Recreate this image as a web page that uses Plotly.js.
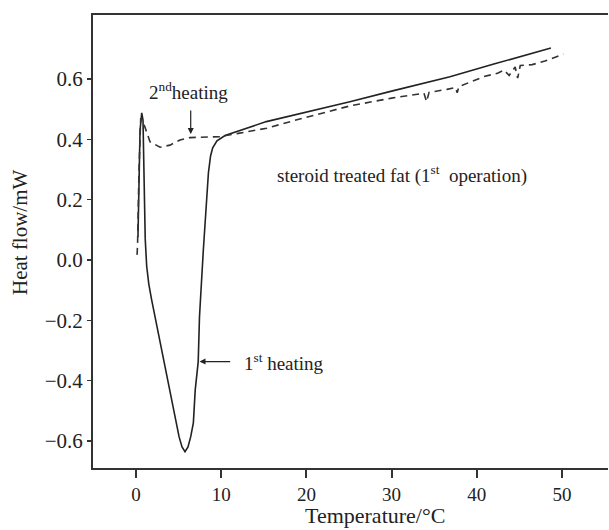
<!DOCTYPE html>
<html>
<head>
<meta charset="utf-8">
<script src="https://cdn.plot.ly/plotly-3.0.1.min.js"></script>
<style>html,body{margin:0;padding:0;background:#fff;}#chart{width:609px;height:530px;}</style>
</head>
<body>
<div id="chart"></div>
<script>
// 1st heating (solid)
var firstTemp = [0.23, 0.35, 0.47, 0.67, 0.82, 0.9, 0.98, 1.08, 1.25, 1.5, 1.84, 3.02, 4.19, 4.78, 5.05, 5.4, 5.75, 6.1, 6.42, 6.73, 6.95, 7.3, 7.45, 7.9, 8.3, 8.5, 8.75, 9.0, 9.5, 10.0, 10.45, 15.3, 20, 25.1, 30, 36.85, 42, 48.7];
var firstFlow = [0.076, 0.265, 0.43, 0.488, 0.464, 0.34, 0.2, 0.07, -0.02, -0.08, -0.133, -0.3, -0.464, -0.54, -0.586, -0.62, -0.636, -0.62, -0.586, -0.54, -0.431, -0.337, -0.188, 0.033, 0.199, 0.29, 0.345, 0.372, 0.395, 0.406, 0.413, 0.459, 0.49, 0.525, 0.56, 0.608, 0.65, 0.703];
// 2nd heating (dashed)
var secondTemp = [0.12, 0.18, 0.35, 0.55, 0.82, 1.64, 2.82, 3.99, 5.16, 6.34, 7.51, 8.69, 9.86, 12, 15.34, 19, 23.1, 25.1, 30, 33.8, 34.1, 34.4, 36.5, 37.5, 37.7, 37.9, 40.8, 42.5, 43.2, 43.8, 44.5, 44.8, 45.1, 46.5, 48, 50.15];
var secondFlow = [0.017, 0.05, 0.3, 0.47, 0.459, 0.392, 0.374, 0.381, 0.398, 0.406, 0.407, 0.408, 0.409, 0.42, 0.437, 0.466, 0.497, 0.511, 0.537, 0.553, 0.525, 0.556, 0.566, 0.572, 0.555, 0.575, 0.608, 0.62, 0.63, 0.612, 0.64, 0.603, 0.645, 0.648, 0.66, 0.683];
var xTicks = [0, 10, 20, 30, 40, 50];
var yTicks = [-0.6, -0.4, -0.2, 0.0, 0.2, 0.4, 0.6];
var yTickText = ['\u22120.6', '\u22120.4', '\u22120.2', '0.0', '0.2', '0.4', '0.6'];
var xTitle = 'Temperature/\u00b0C';
var yTitle = 'Heat flow/mW';

var serif = 'Liberation Serif, Times New Roman, serif';
var traces = [
  {x: firstTemp, y: firstFlow, type: 'scatter', mode: 'lines', line: {color: '#222', width: 1.6}, hoverinfo: 'skip'},
  {x: secondTemp, y: secondFlow, type: 'scatter', mode: 'lines', line: {color: '#333', width: 1.6, dash: '7px,5px'}, hoverinfo: 'skip'}
];
var layout = {
  width: 609, height: 530,
  margin: {l: 93, r: 1, t: 15, b: 62},
  paper_bgcolor: '#fff', plot_bgcolor: '#fff',
  showlegend: false,
  font: {family: serif, color: '#222'},
  xaxis: {
    range: [-5.05, 55.4], tickvals: xTicks, ticktext: xTicks.map(String),
    showgrid: false, zeroline: false, showline: true, mirror: true,
    linecolor: '#333', linewidth: 2, ticks: 'outside', ticklen: 8, tickwidth: 2, tickcolor: '#333',
    tickfont: {family: serif, size: 19, color: '#222'}
  },
  yaxis: {
    range: [-0.69, 0.8126], tickvals: yTicks, ticktext: yTickText,
    showgrid: false, zeroline: false, showline: true,
    linecolor: '#333', linewidth: 2, ticks: 'outside', ticklen: 4, tickwidth: 1.5, tickcolor: '#333',
    tickfont: {family: serif, size: 21, color: '#222'}
  },
  annotations: [
    {x: 0.5476, y: -0.104, xref: 'paper', yref: 'paper', xanchor: 'center', yanchor: 'middle', showarrow: false,
     text: xTitle, font: {family: serif, size: 22, color: '#222'}},
    {x: -0.1417, y: 0.521, xref: 'paper', yref: 'paper', xanchor: 'center', yanchor: 'middle', showarrow: false,
     textangle: -90, text: yTitle, font: {family: serif, size: 21, color: '#222'}},
    {x: 1.29, y: 0.514, xref: 'x', yref: 'y', xanchor: 'left', yanchor: 'bottom', showarrow: false,
     text: '2<sup>nd</sup>heating', font: {family: serif, size: 19, color: '#222'}},
    {x: 6.42, y: 0.418, ax: 6.42, ay: 0.501, xref: 'x', yref: 'y', axref: 'x', ayref: 'y', text: '',
     showarrow: true, arrowhead: 2, arrowsize: 1, arrowwidth: 1.2, arrowcolor: '#222'},
    {x: 12.44, y: -0.385, xref: 'x', yref: 'y', xanchor: 'left', yanchor: 'bottom', showarrow: false,
     text: '1<sup>st</sup> heating', font: {family: serif, size: 19, color: '#222'}},
    {x: 7.45, y: -0.337, ax: 11.23, ay: -0.337, xref: 'x', yref: 'y', axref: 'x', ayref: 'y', text: '',
     showarrow: true, arrowhead: 2, arrowsize: 1, arrowwidth: 1.2, arrowcolor: '#222'},
    {x: 16.31, y: 0.235, xref: 'x', yref: 'y', xanchor: 'left', yanchor: 'bottom', showarrow: false,
     text: 'steroid treated fat (1<sup>st</sup>  operation)', font: {family: serif, size: 19, color: '#222'}}
  ]
};
Plotly.newPlot('chart', traces, layout, {staticPlot: true, displayModeBar: false});
</script>
</body>
</html>
